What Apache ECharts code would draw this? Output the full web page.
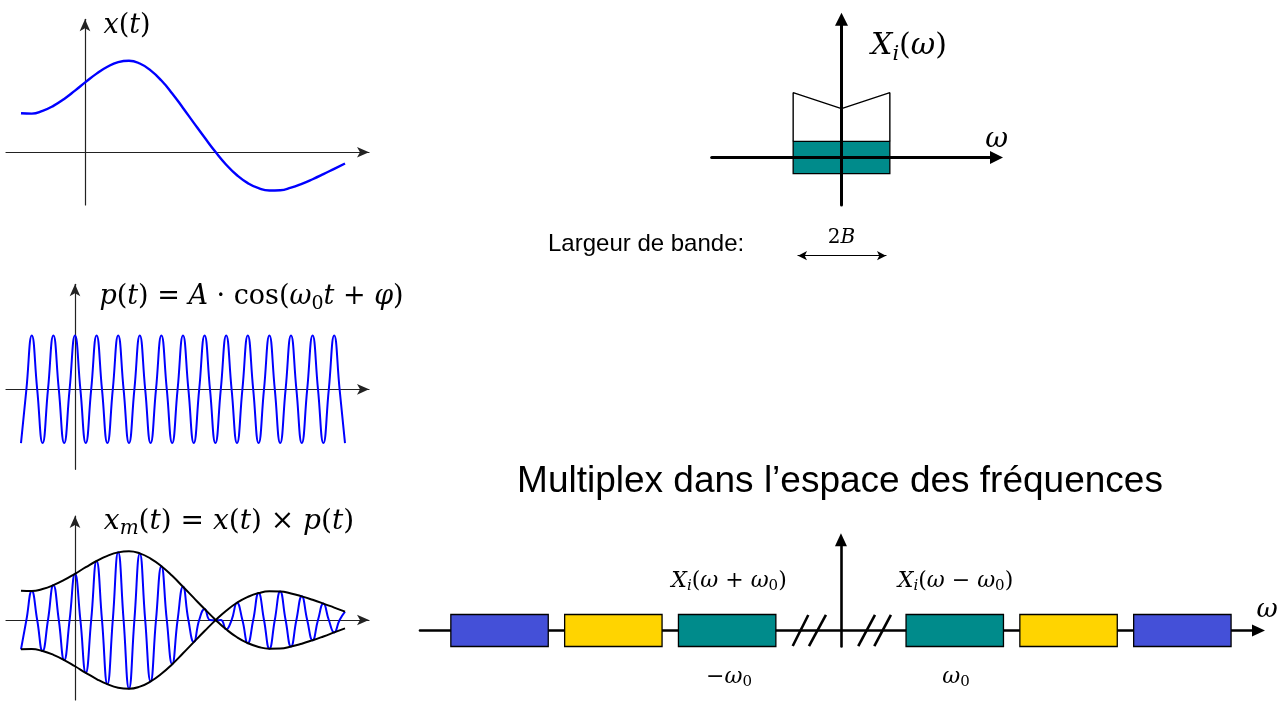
<!DOCTYPE html>
<html><head><meta charset="utf-8">
<script src="https://cdn.jsdelivr.net/npm/echarts@6/dist/echarts.min.js"></script>
<style>html,body{margin:0;padding:0;background:#fff}#c{width:1284px;height:702px}</style>
</head><body><div id="c"></div>
<script>
// ---- data ----
// time samples, in carrier periods (quarter-period and half-period grids)
const tQuarter = [-2.5,-2.25,-2,-1.75,-1.5,-1.25,-1,-0.75,-0.5,-0.25,0,0.25,0.5,0.75,1,1.25,1.5,1.75,2,2.25,2.5,2.75,3,3.25,3.5,3.75,4,4.25,4.5,4.75,5,5.25,5.5,5.75,6,6.25,6.5,6.75,7,7.25,7.5,7.75,8,8.25,8.5,8.75,9,9.25,9.5,9.75,10,10.25,10.5,10.75,11,11.25,11.5,11.75,12,12.25,12.5];
const tHalf = [-2.5,-2,-1.5,-1,-0.5,0,0.5,1,1.5,2,2.5,3,3.5,4,4.5,5,5.5,6,6.5,7,7.5,8,8.5,9,9.5,10,10.5,11,11.5,12,12.5];
// message signal x(t) at half-period samples
const xSignal = [0.425,0.42,0.45,0.505,0.58,0.67,0.765,0.855,0.93,0.98,0.995,0.965,0.89,0.78,0.64,0.482,0.32,0.16,0.005,-0.135,-0.25,-0.335,-0.39,-0.415,-0.413,-0.385,-0.343,-0.293,-0.238,-0.18,-0.122];
// carrier p(t) at quarter-period samples
const pCarrier = [-1,0,1,0,-1,0,1,0,-1,0,1,0,-1,0,1,0,-1,0,1,0,-1,0,1,0,-1,0,1,0,-1,0,1,0,-1,0,1,0,-1,0,1,0,-1,0,1,0,-1,0,1,0,-1,0,1,0,-1,0,1,0,-1,0,1,0,-1];
// baseband spectrum X_i(w), w in units of B
const specOmega = [-1,-1,0,1,1];
const specAmp = [0.25,1,0.753,1,0.25];
const baseBand = [0, 1, -0.25, 0.25];          // center, half width, low, high
// multiplex bands, w in units of w0
const bandCenters = [-3,-2,-1,1,2,3];
const bandHalfWidth = 0.428;
const bandLow = -1, bandHigh = 1;
const breakMarks = [
  [[-0.424,-0.97],[-0.287,0.97]],
  [[-0.281,-0.97],[-0.132,0.97]],
  [[0.152,-0.97],[0.299,0.97]],
  [[0.293,-0.97],[0.439,0.97]]
];

// ---- styles ----
const BLUE = '#0000ff';
const TEAL = '#008B8B';
const bandPalette = {1: TEAL, 2: '#FFD400', 3: '#4450D8'};

const zip = (a, b) => a.map((v, i) => [v, b[i]]);
const xm = pCarrier.map((p, j) => p * xSignal[Math.floor(j / 2)]);
const xNeg = xSignal.map(v => -v);

const hide = {axisTick:{show:false}, axisLabel:{show:false}, splitLine:{show:false}};
function axis(extra){ return Object.assign({type:'value'}, hide, extra); }
const leftLine = {color:'#222', width:1.2};
const leftArrow = {symbol:['none','arrow'], symbolSize:[8,12], lineStyle:leftLine};

function bandRender(colorOf){
  return function(params, api){
    const c = api.value(0), hw = api.value(1), lo = api.value(2), hi = api.value(3);
    const a = api.coord([c - hw, hi]), b = api.coord([c + hw, lo]);
    return {type:'rect', shape:{x:a[0], y:a[1], width:b[0]-a[0], height:b[1]-a[1]},
            style:{fill:colorOf(c), stroke:'#000', lineWidth:1.3}};
  };
}

const SERIF = '"DejaVu Serif", serif';
function rich(s){
  const lh = Math.round(s * 1.35);
  const ss = Math.round(s * 0.7);
  const pad = [Math.round(s * 0.5), 0, 0, 0];
  return {
    i:{fontFamily:SERIF, fontStyle:'italic', fontSize:s, lineHeight:lh},
    r:{fontFamily:SERIF, fontSize:s, lineHeight:lh},
    s:{fontFamily:SERIF, fontSize:ss, lineHeight:lh, padding:pad},
    si:{fontFamily:SERIF, fontStyle:'italic', fontSize:ss, lineHeight:lh, padding:pad}
  };
}
function mt(x, y, text, s){
  return {type:'text', x:x, y:y, z:100, style:{text:text, rich:rich(s), fill:'#000',
    font: s + 'px ' + SERIF, align:'center', verticalAlign:'middle', textAlign:'center', textVerticalAlign:'middle'}};
}
function st(x, y, text, s, align){
  return {type:'text', x:x, y:y, z:100, style:{text:text, fill:'#000',
    font: s + 'px "Liberation Sans", Arial, sans-serif', align:align, verticalAlign:'middle', textAlign:align, textVerticalAlign:'middle'}};
}

const option = {
  animation:false,
  backgroundColor:'#fff',
  grid:[
    {left:6, top:19.3, width:363, height:185.7},
    {left:6, top:284.3, width:363, height:185},
    {left:6, top:516, width:363, height:184},
    {left:711.7, top:19.2, width:284.8, height:185.8},
    {left:420, top:539.8, width:838.5, height:106.7},
    {left:798, top:255.7, width:88, height:1}
  ].map(g => Object.assign({show:false, containLabel:false, outerBoundsMode:'none'}, g)),
  xAxis:[
    axis({gridIndex:0, min:-3.194, max:13.611, axisLine:Object.assign({onZero:true}, leftArrow)}),
    axis({gridIndex:1, min:-3.194, max:13.611, axisLine:Object.assign({onZero:true}, leftArrow)}),
    axis({gridIndex:2, min:-3.194, max:13.611, axisLine:Object.assign({onZero:true}, leftArrow)}),
    axis({gridIndex:3, min:-2.685, max:3.206, z:5, axisLine:{onZero:true, symbol:['none','triangle'], symbolSize:[13,13], lineStyle:{color:'#000', width:3}}}),
    axis({gridIndex:4, min:-3.699, max:3.669, z:1, axisLine:{onZero:true, symbol:['none','triangle'], symbolSize:[12,13], lineStyle:{color:'#000', width:2.6}}}),
    axis({gridIndex:5, min:-1, max:1, position:'top', axisLine:{onZero:false, symbol:['arrow','arrow'], symbolSize:[7,9], lineStyle:{color:'#000', width:1.2}}})
  ],
  yAxis:[
    axis({gridIndex:0, min:-0.573, max:1.4457, offset:-79, axisLine:Object.assign({onZero:false}, leftArrow)}),
    axis({gridIndex:1, min:-1.487, max:1.952, axisLine:Object.assign({onZero:true}, leftArrow)}),
    axis({gridIndex:2, min:-1.159, max:1.507, axisLine:Object.assign({onZero:true}, leftArrow)}),
    axis({gridIndex:3, min:-0.733, max:2.134, z:5, axisLine:{onZero:true, symbol:['none','triangle'], symbolSize:[13,13], lineStyle:{color:'#000', width:3}}}),
    axis({gridIndex:4, min:-1, max:5.67, z:1, axisLine:{onZero:true, symbol:['none','triangle'], symbolSize:[12,13], lineStyle:{color:'#000', width:2.6}}}),
    axis({gridIndex:5, min:0, max:1, show:false})
  ],
  series:[
    {type:'line', xAxisIndex:0, yAxisIndex:0, data:zip(tHalf, xSignal), smooth:true, symbol:'none', silent:true,
     lineStyle:{color:BLUE, width:2.4}},
    {type:'line', xAxisIndex:1, yAxisIndex:1, data:zip(tQuarter, pCarrier), smooth:true, symbol:'none', silent:true,
     lineStyle:{color:BLUE, width:2}},
    {type:'line', xAxisIndex:2, yAxisIndex:2, data:zip(tQuarter, xm), smooth:true, symbol:'none', silent:true, z:2,
     lineStyle:{color:BLUE, width:2}},
    {type:'line', xAxisIndex:2, yAxisIndex:2, data:zip(tHalf, xSignal), smooth:true, symbol:'none', silent:true, z:3,
     lineStyle:{color:'#000', width:2}},
    {type:'line', xAxisIndex:2, yAxisIndex:2, data:zip(tHalf, xNeg), smooth:true, symbol:'none', silent:true, z:3,
     lineStyle:{color:'#000', width:2}},
    {type:'custom', xAxisIndex:3, yAxisIndex:3, data:[baseBand], renderItem:bandRender(() => TEAL), z:2, silent:true},
    {type:'line', xAxisIndex:3, yAxisIndex:3, data:zip(specOmega, specAmp), symbol:'none', silent:true, z:2,
     lineStyle:{color:'#000', width:1.4}},
    {type:'custom', xAxisIndex:4, yAxisIndex:4, data:bandCenters.map(c => [c, bandHalfWidth, bandLow, bandHigh]),
     renderItem:bandRender(c => bandPalette[Math.abs(c)]), z:3, silent:true},
    {type:'lines', coordinateSystem:'cartesian2d', xAxisIndex:4, yAxisIndex:4, silent:true, z:4,
     data:breakMarks.map(c => ({coords:c})), lineStyle:{color:'#000', width:2.6, opacity:1, curveness:0}}
  ],
  graphic:[
    mt(127, 25.5, '{i|x}{r|(}{i|t}{r|)}', 27),
    mt(251.5, 297, '{i|p}{r|(}{i|t}{r|) = }{i|A}{r| · cos(}{i|ω}{s|0}{i|t}{r| + }{i|φ}{r|)}', 27),
    mt(229, 522, '{i|x}{si|m}{r|(}{i|t}{r|) = }{i|x}{r|(}{i|t}{r|) × }{i|p}{r|(}{i|t}{r|)}', 28),
    mt(909, 46.7, '{i|X}{si|i}{r|(}{i|ω}{r|)}', 30),
    mt(996.7, 140, '{i|ω}', 28),
    mt(841.5, 237.5, '{r|2}{i|B}', 20),
    st(548, 244, 'Largeur de bande:', 24, 'left'),
    st(840, 482, 'Multiplex dans l’espace des fréquences', 37, 'center'),
    mt(729, 581, '{i|X}{si|i}{r|(}{i|ω}{r| + }{i|ω}{s|0}{r|)}', 22),
    mt(955.5, 581, '{i|X}{si|i}{r|(}{i|ω}{r| − }{i|ω}{s|0}{r|)}', 22),
    mt(729, 677, '{r|−}{i|ω}{s|0}', 22),
    mt(956, 677, '{i|ω}{s|0}', 22),
    mt(1267, 610, '{i|ω}', 26)
  ]
};
const chart = echarts.init(document.getElementById('c'));
chart.setOption(option);
</script>
</body></html>
